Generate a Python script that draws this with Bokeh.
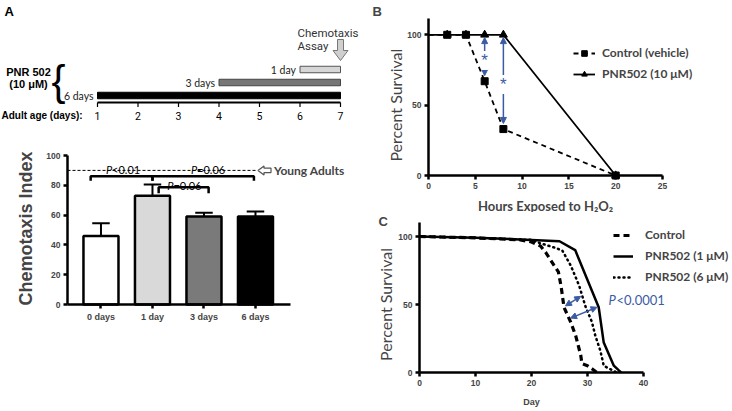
import numpy as np
from bokeh.plotting import figure
from bokeh.layouts import row, column
from bokeh.models import Range1d, Label, Arrow, NormalHead, FixedTicker, Legend, LegendItem
from bokeh.core.properties import value
from bokeh.embed import file_html
from bokeh.resources import INLINE

# ---------------- data ----------------
# Panel A, treatment timeline
treatment_labels = ["1 day", "3 days", "6 days"]
treatment_days = [1, 3, 6]
adult_age_days = [1, 2, 3, 4, 5, 6, 7]
assay_day = 7

# Panel A, chemotaxis bars
groups = ["0 days", "1 day", "3 days", "6 days"]
chemotaxis_index = [46, 73, 59, 59]
chemotaxis_err = [8.5, 7.5, 2.5, 3.5]
young_adult_index = 90
chemo_ticks = [0, 20, 40, 60, 80, 100]
p_values = ["<0.01", "=0.06", "=0.06"]

# Panel B, H2O2 survival
h2o2_hours = [0, 2, 4, 6, 8, 20]
control_vehicle = [100, 100, 100, 67, 33, 0]
pnr502_10uM = [100, 100, 100, 100, 100, 0]
hours_ticks = [0, 5, 10, 15, 20, 25]
survival_ticks = [0, 50, 100]

# Panel C, lifespan
control_day = [0, 10, 18, 20, 21.6, 22.5, 24, 24.8, 25.3, 25.8, 27, 27.9, 28.8, 29, 30, 30.8, 31.7]
control_surv = [100, 99, 97.5, 96, 93, 88.5, 79, 74, 63, 48, 37, 27, 12.5, 6.5, 5, 2.7, 0]
pnr1_day = [0, 10, 20, 25, 27.8, 32, 32.9, 34.7, 35.6, 36]
pnr1_surv = [100, 99, 97.5, 96.5, 90, 48, 22, 5, 1.5, 0]
pnr6_day = [0, 10, 20, 21.6, 24, 25.5, 27, 28.5, 29.6, 30.8, 31.4, 32.3, 32.9, 33.8, 35, 35.5]
pnr6_surv = [100, 99, 97.5, 95, 92, 89.7, 78.7, 64, 49, 37, 27, 16, 5, 3, 0.5, 0]
day_ticks = [0, 10, 20, 30, 40]

# ---------------- styles ----------------
BLUE = "#3b5ba5"
TICK_FONT = "Liberation Sans"
SANS = "Lato"
NARROW = "Roboto"


def frame_ranges(fx0, fw, xa, pxa, xb, pxb, fy0, fh, ya, pya, yb, pyb):
    """Ranges so that the whole figure is the plot frame (axes are drawn inside it)."""
    sx = (pxb - pxa) / (xb - xa)
    sy = (pya - pyb) / (yb - ya)
    xr = Range1d(xa - (pxa - fx0) / sx, xb + (fx0 + fw - pxb) / sx)
    yr = Range1d(ya - (fy0 + fh - pya) / sy, yb + (pyb - fy0) / sy)
    return xr, yr, 1.0 / sx, 1.0 / sy


def make_fig(w, h, xr, yr):
    p = figure(width=w, height=h, x_range=xr, y_range=yr, toolbar_location=None,
               output_backend="svg", min_border=0)
    p.grid.visible = False
    p.outline_line_color = None
    return p


def style_axes(p, xt, yt, xfix, yfix, xb, yb, size="8.5px"):
    p.xaxis.ticker = FixedTicker(ticks=xt)
    p.yaxis.ticker = FixedTicker(ticks=yt)
    p.xaxis.fixed_location = xfix
    p.yaxis.fixed_location = yfix
    p.xaxis.bounds = xb
    p.yaxis.bounds = yb
    for ax in p.axis:
        ax.axis_line_width = 2.5
        ax.major_tick_line_width = 2.5
        ax.major_tick_out = 4
        ax.major_tick_in = 0
        ax.minor_tick_out = 0
        ax.minor_tick_in = 0
        ax.major_label_text_font = TICK_FONT
        ax.major_label_text_font_style = "bold"
        ax.major_label_text_font_size = size
        ax.major_label_standoff = 3


# ================= Panel A: timeline (x 0..360, y 0..124) =================
H1 = 124
p1 = figure(width=360, height=H1, x_range=Range1d(1 - 97 / 40.5, 7 + 20 / 40.5),
            y_range=Range1d(H1, 0), x_axis_type=None, y_axis_type=None,
            toolbar_location=None, output_backend="svg", min_border=0)
p1.grid.visible = False
p1.outline_line_color = None
px1 = 1 / 40.5
x0_1 = 1 - 97 / 40.5

row_y = [69, 82, 95]
p1.hbar(y=row_y, left=[assay_day - d for d in treatment_days], right=assay_day, height=6.5,
        fill_color=["#d6d6d6", "#767676", "black"], line_color=["#555555", "#444444", "black"],
        line_width=1)
p1.text(x=[assay_day - d for d in treatment_days], y=row_y, text=treatment_labels,
        text_font=value(SANS), text_font_size="10.5px", text_align="right",
        text_baseline="middle", x_offset=-4, text_color="#222222")
p1.segment(x0=adult_age_days[0], x1=adult_age_days[-1], y0=102, y1=102, line_width=2, line_color="black")
p1.segment(x0=adult_age_days, x1=adult_age_days, y0=102, y1=106.5, line_width=1.2, line_color="black")
p1.text(x=adult_age_days, y=115, text=[str(d) for d in adult_age_days],
        text_font=value(NARROW), text_font_size="10.5px",
        text_align="center", text_baseline="middle")
p1.text(x=[x0_1 + 1 * px1], y=[115], text=["Adult age (days):"], text_font=value(TICK_FONT),
        text_font_style="bold", text_font_size="10px", text_align="left", text_baseline="middle")
p1.text(x=[x0_1 + 4 * px1], y=[3], text=["A"], text_font=value(TICK_FONT),
        text_font_style="bold", text_font_size="13px", text_align="left", text_baseline="top")
p1.text(x=[x0_1 + 28 * px1] * 2, y=[71, 83], text=["PNR 502", "(10 μM)"],
        text_font=value(TICK_FONT), text_font_style="bold", text_font_size="11px",
        text_align="center", text_baseline="middle")
p1.text(x=[x0_1 + 58 * px1], y=[80], text=["{"], text_font=value(TICK_FONT),
        text_font_size="42px", text_align="center", text_baseline="middle")
p1.text(x=[assay_day - 43 * px1] * 2, y=[32, 45], text=["Chemotaxis", "Assay"],
        text_font=value(NARROW), text_font_size="11.5px",
        text_align="left", text_baseline="middle", text_color="#333333")
sh, hh = 3 * px1, 7.5 * px1
p1.patch(x=[assay_day - sh, assay_day + sh, assay_day + sh, assay_day + hh, assay_day,
            assay_day - hh, assay_day - sh],
         y=[39, 39, 50, 50, 60, 50, 50], fill_color="#cfcfcf", line_color="#777777", line_width=1)

# ================= Panel A: bars (x 0..360, y 124..411) =================
xr2, yr2, ux, uy = frame_ranges(0, 360, 0.35, 67, 4.68, 290, H1, 411 - H1, 0, 304, 100, 155)
p2 = make_fig(360, 411 - H1, xr2, yr2)
xpos = [i + 1 for i in range(len(groups))]
p2.vbar(x=xpos, top=chemotaxis_index, bottom=0, width=0.68,
        fill_color=["white", "#d9d9d9", "#7a7a7a", "black"], line_color="black", line_width=2.5)
style_axes(p2, xpos, chemo_ticks, 0, 0.35, (0.35, 4.68), (0, 100), "8.5px")
p2.xaxis.major_label_overrides = {i + 1: g for i, g in enumerate(groups)}
p2.xaxis.major_label_text_font_size = "9px"
tops = [m + e for m, e in zip(chemotaxis_index, chemotaxis_err)]
p2.segment(x0=xpos, x1=xpos, y0=chemotaxis_index, y1=tops, line_width=2, line_color="black")
p2.segment(x0=[x - 0.17 for x in xpos], x1=[x + 0.17 for x in xpos], y0=tops, y1=tops,
           line_width=2, line_color="black")
line_end = 0.35 + 190 * ux
p2.line(x=[0.35, line_end], y=[young_adult_index] * 2, line_dash="3 2", line_width=1, line_color="black")
tx = line_end + 0.01
ya = young_adult_index
p2.patch(x=[tx, tx + 6 * ux, tx + 6 * ux, tx + 13 * ux, tx + 13 * ux, tx + 6 * ux, tx + 6 * ux],
         y=[ya, ya + 4.5 * uy, ya + 2.2 * uy, ya + 2.2 * uy, ya - 2.2 * uy, ya - 2.2 * uy, ya - 4.5 * uy],
         fill_color="white", line_color="#555555", line_width=1.2)
p2.add_layout(Label(x=tx + 16 * ux, y=ya, text="Young Adults", text_font=SANS, text_font_style="bold",
                    text_font_size="12px", text_baseline="middle", text_align="left"))
# comparison brackets
brk_x0 = [0.8, 2.0, 2.12]
brk_x1 = [2.0, 3.97, 3.09]
brk_y = [86, 86, 78.7]
brk_drop = [3, 3, 4]
p2.multi_line(xs=[[a, a, b, b] for a, b in zip(brk_x0, brk_x1)],
              ys=[[y - d, y, y, y - d] for y, d in zip(brk_y, brk_drop)],
              line_width=2.5, line_color="black")
ptxt_x = [1.41, 3.06, 2.6]
ptxt_y = [90.6, 90.6, 79.8]
p2.text(x=ptxt_x, y=ptxt_y, text=["P"] * 3, text_font=value(SANS), text_font_style="italic",
        text_font_size="11px", text_align="right", text_baseline="alphabetic", x_offset=-10)
p2.text(x=ptxt_x, y=ptxt_y, text=p_values, text_font=value(SANS), text_font_size="11px",
        text_align="left", text_baseline="alphabetic", x_offset=-10)
p2.add_layout(Label(x=0.35 - 42 * ux, y=51, angle=np.pi / 2, text="Chemotaxis Index",
                    text_font=TICK_FONT, text_font_style="bold", text_font_size="18px",
                    text_align="center", text_baseline="middle"))

# ================= Panel B (x 360..732, y 0..212) =================
xrB, yrB, uxB, uyB = frame_ranges(360, 372, 0, 428, 25, 662, 0, 212, 0, 175, 100, 34.3)
pB = make_fig(372, 212, xrB, yrB)
style_axes(pB, hours_ticks, survival_ticks, 0, 0, (0, 25), (0, 111.6), "8.5px")
l_pnr = pB.line(h2o2_hours, pnr502_10uM, line_width=1.8, line_color="black")
m_pnr = pB.scatter(h2o2_hours[1:], pnr502_10uM[1:], marker="triangle", size=8, color="black")
l_ctl = pB.line(h2o2_hours, control_vehicle, line_width=1.8, line_color="black", line_dash="5 4")
m_ctl = pB.scatter(h2o2_hours[1:], control_vehicle[1:], marker="square", size=7, color="black")
diff_idx = [i for i in range(len(h2o2_hours))
            if pnr502_10uM[i] != control_vehicle[i] and control_vehicle[i] > 0]
for i in diff_idx:
    ys, ye = pnr502_10uM[i] - 2, control_vehicle[i] + 4
    pB.add_layout(Arrow(x_start=h2o2_hours[i], y_start=ys, x_end=h2o2_hours[i], y_end=ye,
                        start=NormalHead(size=6, fill_color=BLUE, line_color=BLUE),
                        end=NormalHead(size=6, fill_color=BLUE, line_color=BLUE),
                        line_color=BLUE, line_width=1.5))
    pB.add_layout(Label(x=h2o2_hours[i], y=(ys + ye) / 2, y_offset=-4, text="*", text_color=BLUE,
                        text_font=TICK_FONT, text_font_size="17px", text_align="center",
                        text_baseline="middle", background_fill_color="white"))
legB = Legend(items=[LegendItem(label="Control (vehicle)", renderers=[l_ctl, m_ctl]),
                     LegendItem(label="PNR502 (10 μM)", renderers=[l_pnr, m_pnr])],
              location=(213, 131), glyph_width=22, glyph_height=14, label_height=14,
              label_standoff=7, spacing=6, padding=0, margin=0, border_line_color=None,
              background_fill_alpha=0, label_text_font=SANS, label_text_font_style="bold",
              label_text_font_size="12px")
pB.add_layout(legB)
pB.add_layout(Label(x=12.5, y=-30 * uyB, text="Hours Exposed to H₂O₂", text_font=SANS,
                    text_font_style="bold", text_font_size="13px", text_align="center",
                    text_baseline="middle"))
pB.add_layout(Label(x=-33 * uxB, y=50, angle=np.pi / 2, text="Percent Survival",
                    text_font=SANS, text_font_size="16px", text_align="center", text_baseline="middle"))
pB.add_layout(Label(x=-56 * uxB, y=175 * uyB - 3 * uyB, text="B", text_font=TICK_FONT,
                    text_font_style="bold", text_font_size="13px", text_align="left", text_baseline="top"))

# ================= Panel C (x 360..732, y 212..411) =================
xrC, yrC, uxC, uyC = frame_ranges(360, 372, 0, 419, 40, 643, 212, 199, 0, 372, 100, 236)
pC = make_fig(372, 199, xrC, yrC)
style_axes(pC, day_ticks, survival_ticks, 0, 0, (0, 40), (0, 110.3), "8.5px")
l_c = pC.line(control_day, control_surv, line_width=3.2, line_color="black", line_dash="6 4")
l_1 = pC.line(pnr1_day, pnr1_surv, line_width=2.5, line_color="black")
l_6 = pC.line(pnr6_day, pnr6_surv, line_width=2.5, line_color="black", line_dash="1 4", line_cap="round")


def x_at(days, surv, level):
    return float(np.interp(level, surv[::-1], days[::-1]))


for (d0, s0, lv0), (d1, s1, lv1) in [((control_day, control_surv, 49), (pnr6_day, pnr6_surv, 56)),
                                      ((control_day, control_surv, 40), (pnr1_day, pnr1_surv, 48))]:
    pC.add_layout(Arrow(x_start=x_at(d0, s0, lv0) + 0.3, y_start=lv0, x_end=x_at(d1, s1, lv1) - 0.3, y_end=lv1,
                        start=NormalHead(size=6, fill_color=BLUE, line_color=BLUE),
                        end=NormalHead(size=6, fill_color=BLUE, line_color=BLUE),
                        line_color=BLUE, line_width=1.5))
pC.add_layout(Label(x=33.75, y=53, text="P", text_font=SANS, text_font_style="italic",
                    text_font_size="13px", text_color=BLUE, text_baseline="middle"))
pC.add_layout(Label(x=33.75, y=53, x_offset=8, text="<0.0001", text_font=SANS,
                    text_font_size="13px", text_color=BLUE, text_baseline="middle"))
legC = Legend(items=[LegendItem(label="Control", renderers=[l_c]),
                     LegendItem(label="PNR502 (1 μM)", renderers=[l_1]),
                     LegendItem(label="PNR502 (6 μM)", renderers=[l_6])],
              location=(253, 127), glyph_width=20, glyph_height=14, label_height=14,
              label_standoff=12, spacing=6, padding=0, margin=0, border_line_color=None,
              background_fill_alpha=0, label_text_font=SANS, label_text_font_style="bold",
              label_text_font_size="12px")
pC.add_layout(legC)
pC.add_layout(Label(x=20, y=-29 * uyC, text="Day", text_font=TICK_FONT, text_font_style="bold",
                    text_font_size="9px", text_align="center", text_baseline="middle"))
pC.add_layout(Label(x=-34 * uxC, y=50, angle=np.pi / 2, text="Percent Survival",
                    text_font=SANS, text_font_size="16px", text_align="center", text_baseline="middle"))
pC.add_layout(Label(x=-41 * uxC, y=(372 - 213) * uyC, text="C", text_font=TICK_FONT,
                    text_font_style="bold", text_font_size="13px", text_align="left", text_baseline="top"))

layout = row(column(p1, p2), column(pB, pC))
open("out.html", "w").write(file_html(layout, INLINE))
